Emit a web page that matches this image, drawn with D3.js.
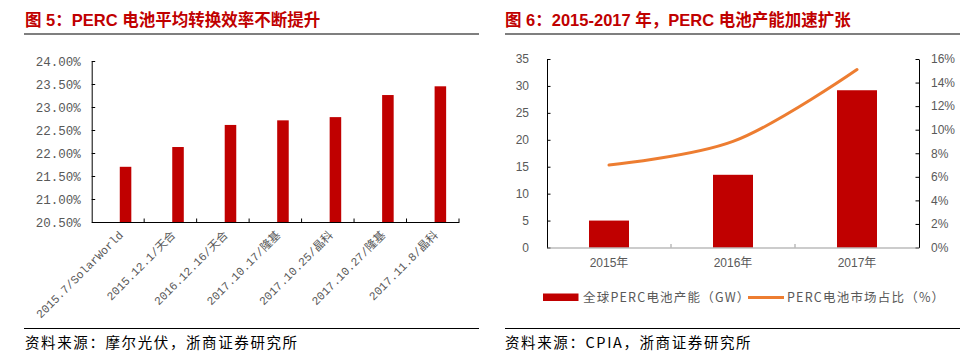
<!DOCTYPE html>
<html><head><meta charset="utf-8">
<script src="https://cdn.jsdelivr.net/npm/d3@7"></script>
<style>
html,body{margin:0;padding:0;background:#fff;}
svg{display:block;}
</style></head>
<body>
<script>
// ---------- data ----------
const effCategories = ["2015.7/SolarWorld","2015.12.1/天合","2016.12.16/天合","2017.10.17/隆基","2017.10.25/晶科","2017.10.27/隆基","2017.11.8/晶科"];
const effValues = [21.70, 22.13, 22.61, 22.71, 22.78, 23.26, 23.45];
const effTicks = [20.5, 21.0, 21.5, 22.0, 22.5, 23.0, 23.5, 24.0];

const capYears = ["2015年","2016年","2017年"];
const capValues = [5, 13.5, 29.2];
const shareValues = [7.0, 9.0, 15.1];
const capTicks = [0,5,10,15,20,25,30,35];
const shareTicks = [0,2,4,6,8,10,12,14,16];

const titleLeft = "图 5：PERC 电池平均转换效率不断提升";
const titleRight = "图 6：2015-2017 年，PERC 电池产能加速扩张";
const sourceLeft = "资料来源：摩尔光伏，浙商证券研究所";
const sourceRight = "资料来源：CPIA，浙商证券研究所";
const legendNames = ["全球PERC电池产能（GW）","PERC电池市场占比（%）"];

// ---------- setup ----------
const W = 979, H = 363;
const RED = "#C00000", ORANGE = "#ED7D31", GRAY = "#595959";
const svg = d3.select("body").append("svg").attr("width", W).attr("height", H);

const titleFont = "'Liberation Sans', Arial, 'Noto Sans CJK SC', sans-serif";
const cjk = "'Noto Sans CJK SC', sans-serif";
const mono = "'Liberation Mono', 'DejaVu Sans Mono', 'Noto Sans CJK SC', monospace";
const sans = "'Liberation Sans', Arial, 'Noto Sans CJK SC', sans-serif";

// titles
svg.append("text").attr("x", 25).attr("y", 26).text(titleLeft)
  .attr("font-family", titleFont).attr("font-weight", "bold").attr("font-size", 16.5).attr("fill", RED);
svg.append("text").attr("x", 505).attr("y", 26).text(titleRight)
  .attr("font-family", titleFont).attr("font-weight", "bold").attr("font-size", 16.5).attr("fill", RED);
svg.append("line").attr("x1", 24).attr("x2", 479).attr("y1", 34).attr("y2", 34).attr("stroke", "#000").attr("stroke-width", 1.2);
svg.append("line").attr("x1", 505).attr("x2", 960).attr("y1", 34).attr("y2", 34).attr("stroke", "#000").attr("stroke-width", 1.2);

// sources
svg.append("line").attr("x1", 24).attr("x2", 479).attr("y1", 328.5).attr("y2", 328.5).attr("stroke", "#000").attr("stroke-width", 1.2);
svg.append("line").attr("x1", 505).attr("x2", 960).attr("y1", 328.5).attr("y2", 328.5).attr("stroke", "#000").attr("stroke-width", 1.2);
svg.append("text").attr("x", 25).attr("y", 348).text(sourceLeft)
  .attr("font-family", cjk).attr("font-size", 14.5).attr("letter-spacing", 1.6).attr("fill", "#000");
svg.append("text").attr("x", 505).attr("y", 348).text(sourceRight)
  .attr("font-family", "'Noto Sans CJK SC', sans-serif").attr("font-size", 14.5).attr("letter-spacing", 1.6).attr("fill", "#000");

// ---------- left chart ----------
const xL = d3.scaleBand().domain(effCategories).range([91.7, 459]);
const yL = d3.scaleLinear().domain([20.5, 24]).range([222, 61]);
const gL = svg.append("g");

gL.selectAll("rect.eff").data(effValues).enter().append("rect")
  .attr("x", (d,i) => xL(effCategories[i]) + xL.bandwidth()*0.535)
  .attr("width", xL.bandwidth()*0.22)
  .attr("y", d => yL(d))
  .attr("height", d => yL(20.5) - yL(d))
  .attr("fill", RED);

const axL = gL.append("g").attr("transform", "translate(91.7,0)")
  .call(d3.axisLeft(yL).tickValues(effTicks).tickSizeInner(-3.5).tickSizeOuter(0).tickPadding(11)
    .tickFormat(d => d3.format(".2f")(d) + "%"));
axL.select(".domain").attr("stroke", "#000");
axL.selectAll(".tick line").attr("stroke", "#000");
axL.selectAll(".tick text").attr("font-family", mono).attr("font-size", 12.5).attr("fill", GRAY);

// bottom axis
const axLB = gL.append("g").attr("transform", "translate(0,222)")
  .call(d3.axisBottom(xL).tickSize(0).tickFormat(""));
axLB.select(".domain").attr("stroke", "#000");
gL.selectAll("line.btick").data(effCategories).enter().append("line")
  .attr("x1", d => xL(d) + xL.bandwidth()).attr("x2", d => xL(d) + xL.bandwidth())
  .attr("y1", 222).attr("y2", 218.5).attr("stroke", "#000");

gL.selectAll("text.xlab").data(effCategories).enter().append("text")
  .attr("transform", d => `translate(${xL(d) + xL.bandwidth()/2 + 3},${233}) rotate(-45)`)
  .attr("text-anchor", "end").attr("dy", "0.35em")
  .attr("font-family", mono).attr("font-size", 11.5).attr("fill", GRAY)
  .text(d => d);

// ---------- right chart ----------
const xR = d3.scaleBand().domain(capYears).range([547, 919]);
const yR = d3.scaleLinear().domain([0, 35]).range([247.5, 59]);
const yP = d3.scaleLinear().domain([0, 16]).range([247.5, 59]);
const gR = svg.append("g");

gR.selectAll("rect.cap").data(capValues).enter().append("rect")
  .attr("x", (d,i) => xR(capYears[i]) + xR.bandwidth()/2 - 20)
  .attr("width", 40)
  .attr("y", d => yR(d))
  .attr("height", d => yR(0) - yR(d))
  .attr("fill", RED);

const axR1 = gR.append("g").attr("transform", "translate(547,0)")
  .call(d3.axisLeft(yR).tickValues(capTicks).tickSizeInner(-3.5).tickSizeOuter(0).tickPadding(18));
axR1.select(".domain").attr("stroke", "#000");
axR1.selectAll(".tick line").attr("stroke", "#000");
axR1.selectAll(".tick text").attr("font-family", sans).attr("font-size", 12).attr("fill", GRAY);

const axR2 = gR.append("g").attr("transform", "translate(919,0)")
  .call(d3.axisRight(yP).tickValues(shareTicks).tickSizeInner(-3.5).tickSizeOuter(0).tickPadding(12)
    .tickFormat(d => d + "%"));
axR2.select(".domain").attr("stroke", "#000");
axR2.selectAll(".tick line").attr("stroke", "#000");
axR2.selectAll(".tick text").attr("font-family", sans).attr("font-size", 12).attr("fill", GRAY);

const axRB = gR.append("g").attr("transform", "translate(0,247.5)")
  .call(d3.axisBottom(xR).tickSize(0).tickPadding(11));
axRB.select(".domain").attr("stroke", "#999");
axRB.selectAll(".tick text").attr("font-family", sans).attr("font-size", 12).attr("fill", GRAY);
gR.selectAll("line.btick").data(capYears.slice(0, -1)).enter().append("line")
  .attr("x1", d => xR(d) + xR.bandwidth()).attr("x2", d => xR(d) + xR.bandwidth())
  .attr("y1", 247.5).attr("y2", 244).attr("stroke", "#999");

const line = d3.line()
  .x((d,i) => xR(capYears[i]) + xR.bandwidth()/2)
  .y(d => yP(d))
  .curve(d3.curveCatmullRom.alpha(0.5));
gR.append("path").datum(shareValues).attr("d", line)
  .attr("fill", "none").attr("stroke", ORANGE).attr("stroke-width", 3).attr("stroke-linecap", "round");

// legend
svg.append("rect").attr("x", 543).attr("y", 293.5).attr("width", 35.5).attr("height", 7.5).attr("fill", RED);
svg.append("text").attr("x", 583).attr("y", 297.5).attr("dy", "0.35em").text(legendNames[0])
  .attr("font-family", cjk).attr("font-size", 12.5).attr("letter-spacing", 1.2).attr("fill", GRAY);
svg.append("line").attr("x1", 748).attr("x2", 784).attr("y1", 297.5).attr("y2", 297.5)
  .attr("stroke", ORANGE).attr("stroke-width", 3);
svg.append("text").attr("x", 787).attr("y", 297.5).attr("dy", "0.35em").text(legendNames[1])
  .attr("font-family", cjk).attr("font-size", 12.5).attr("letter-spacing", 1.2).attr("fill", GRAY);
</script>
</body></html>
